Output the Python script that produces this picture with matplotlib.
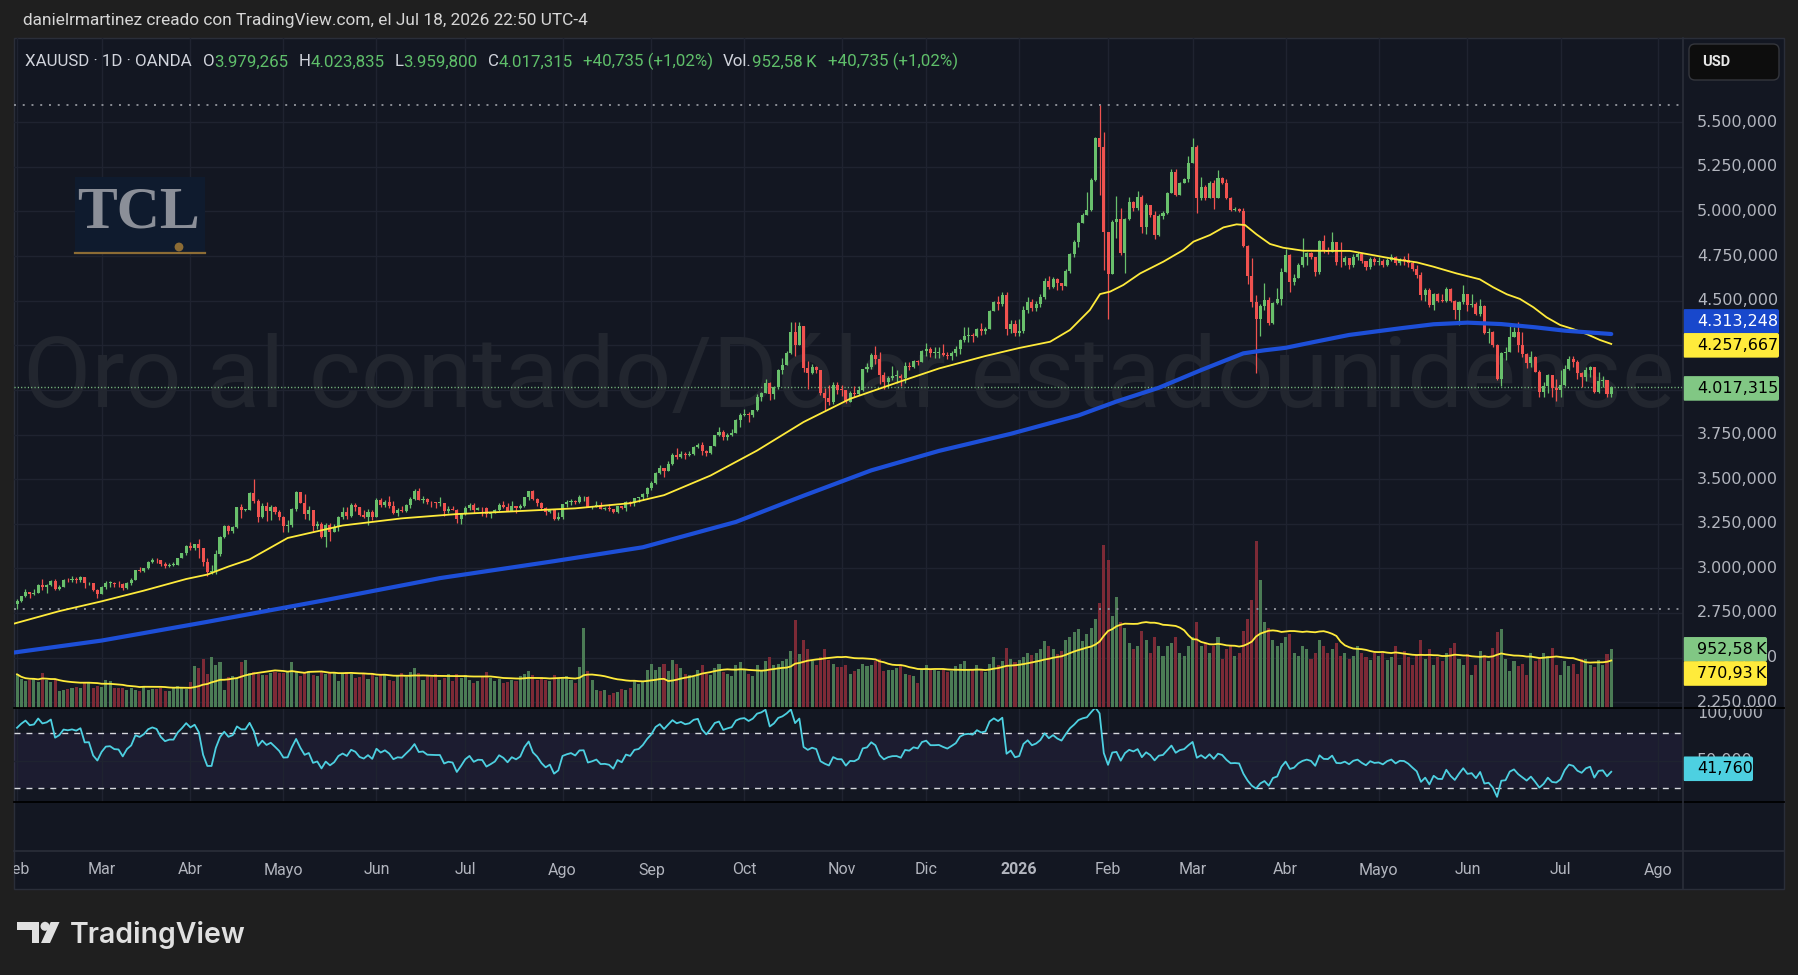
import numpy as np
import pandas as pd
import matplotlib
matplotlib.use("Agg")
import matplotlib.pyplot as plt
from matplotlib.patches import Rectangle, FancyBboxPatch, Circle, Polygon

plt.rcParams['lines.scale_dashes'] = False

# ------------------------------------------------------------------ data
# XAUUSD daily, Feb 3 2025 -> Jul 17 2026 (OANDA, no Dec 25 / Jan 1)
jan25_closes = [2658, 2640, 2636, 2649, 2662, 2670, 2690, 2663, 2677, 2697, 2714,
                2702, 2708, 2745, 2755, 2754, 2771, 2740, 2763, 2760, 2794, 2798]
holidays = ['2025-12-25', '2026-01-01']
last_open = 3979.265

closes = [
    # feb 25
    2815, 2842, 2866, 2856, 2861, 2908, 2897, 2905, 2928, 2883, 2898, 2935, 2933, 2939, 2936, 2951, 2915, 2916, 2876, 2858,
    # mar
    2893, 2918, 2920, 2911, 2910, 2889, 2918, 2934, 2989, 2984, 3001, 3034, 3048, 3044, 3023, 3011, 3019, 3019, 3057, 3085, 3124,
    # abr
    3113, 3134, 3114, 3037, 2982, 2982, 3083, 3176, 3237, 3211, 3229, 3342, 3327, 3327, 3424, 3380, 3288, 3349, 3319, 3344, 3317, 3288,
    # mayo
    3239, 3241, 3334, 3430, 3365, 3306, 3325, 3235, 3248, 3178, 3240, 3202, 3230, 3290, 3315, 3295, 3357, 3342, 3301, 3288, 3317, 3289,
    # jun
    3381, 3353, 3374, 3352, 3310, 3325, 3322, 3354, 3386, 3433, 3385, 3389, 3370, 3369, 3368, 3368, 3323, 3332, 3328, 3274, 3303,
    # jul
    3338, 3357, 3326, 3337, 3336, 3302, 3313, 3325, 3355, 3344, 3324, 3347, 3338, 3350, 3397, 3431, 3387, 3368, 3337, 3314, 3326, 3275, 3289,
    # ago
    3363, 3373, 3380, 3369, 3397, 3398, 3342, 3348, 3356, 3335, 3336, 3332, 3315, 3348, 3339, 3371, 3366, 3393, 3397, 3416, 3448,
    # sep
    3476, 3533, 3560, 3545, 3587, 3636, 3626, 3641, 3634, 3643, 3679, 3690, 3659, 3644, 3685, 3746, 3763, 3735, 3749, 3760, 3833, 3858,
    # oct
    3866, 3857, 3886, 3961, 3985, 4040, 3976, 4018, 4110, 4142, 4209, 4326, 4251, 4356, 4125, 4095, 4126, 4113, 3982, 3952, 3930, 4025, 4002,
    # nov
    4001, 3932, 3980, 3977, 4000, 4116, 4128, 4195, 4171, 4085, 4045, 4067, 4077, 4078, 4065, 4136, 4131, 4163, 4156, 4218,
    # dic
    4232, 4206, 4206, 4208, 4198, 4190, 4208, 4228, 4280, 4300, 4305, 4302, 4340, 4332, 4340, 4445, 4490, 4480, 4530, 4340, 4370, 4320,
    # ene 26
    4330, 4450, 4495, 4460, 4480, 4520, 4610, 4578, 4620, 4598, 4585, 4666, 4760, 4831, 4934, 4980, 5008, 5176, 5410, 5363, 4887,
    # feb
    4651, 4939, 4956, 4765, 4958, 5051, 5018, 5079, 4915, 5037, 4980, 4868, 4975, 4993, 5102, 5223, 5092, 5158, 5180, 5274,
    # mar
    5361, 5077, 5135, 5074, 5162, 5074, 5186, 5162, 5074, 5008, 5012, 5005, 4808, 4640, 4491, 4397, 4470, 4504, 4373, 4485, 4507, 4663,
    # abr
    4756, 4603, 4625, 4700, 4743, 4765, 4743, 4663, 4836, 4778, 4775, 4831, 4719, 4715, 4737, 4700, 4745, 4760, 4720, 4690, 4735, 4715,
    # mayo
    4720, 4700, 4730, 4745, 4710, 4732, 4730, 4709, 4676, 4644, 4532, 4560, 4476, 4537, 4500, 4498, 4564, 4498, 4448, 4494, 4537,
    # jun
    4476, 4481, 4425, 4470, 4321, 4327, 4252, 4061, 4205, 4210, 4298, 4322, 4252, 4201, 4149, 4186, 4102, 3990, 4024, 4083, 4009, 3999,
    # jul
    4027, 4115, 4173, 4158, 4097, 4070, 4111, 4126, 3987, 4050, 4055, 3976.58, 4017.315,
]

highs = [
    2830, 2845, 2882, 2870, 2886, 2911, 2942, 2910, 2936, 2942, 2904, 2938, 2947, 2955, 2954, 2956, 2953, 2925, 2920, 2882,
    2900, 2928, 2930, 2925, 2930, 2915, 2922, 2947, 2992, 3005, 3004, 3039, 3057, 3057, 3046, 3035, 3027, 3033, 3060, 3087, 3128,
    3149, 3136, 3167, 3055, 3055, 3020, 3100, 3180, 3245, 3245, 3235, 3344, 3358, 3330, 3430, 3500, 3386, 3367, 3372, 3354, 3352, 3328,
    3292, 3269, 3336, 3435, 3415, 3414, 3347, 3325, 3265, 3260, 3252, 3253, 3250, 3296, 3345, 3345, 3366, 3365, 3345, 3325, 3330, 3326,
    3392, 3392, 3384, 3403, 3375, 3338, 3349, 3360, 3398, 3446, 3452, 3404, 3394, 3376, 3374, 3398, 3368, 3348, 3350, 3330, 3309,
    3350, 3365, 3365, 3345, 3342, 3345, 3318, 3330, 3368, 3375, 3366, 3377, 3346, 3360, 3402, 3433, 3439, 3394, 3373, 3345, 3334, 3334, 3315,
    3363, 3385, 3390, 3385, 3409, 3405, 3404, 3352, 3375, 3374, 3344, 3358, 3334, 3350, 3352, 3379, 3376, 3393, 3399, 3423, 3454,
    3489, 3540, 3578, 3564, 3600, 3646, 3674, 3657, 3650, 3655, 3685, 3703, 3707, 3665, 3688, 3748, 3791, 3776, 3761, 3782, 3835, 3872,
    3895, 3875, 3889, 3977, 3991, 4059, 4045, 4022, 4117, 4179, 4218, 4380, 4379, 4381, 4360, 4161, 4146, 4135, 4113, 4008, 4030, 4047, 4045,
    4030, 4002, 3995, 4020, 4020, 4119, 4148, 4205, 4245, 4211, 4100, 4078, 4133, 4110, 4090, 4155, 4155, 4170, 4168, 4225,
    4265, 4242, 4242, 4242, 4260, 4215, 4220, 4245, 4288, 4353, 4350, 4320, 4345, 4375, 4350, 4450, 4498, 4525, 4550, 4548, 4390, 4390,
    4400, 4470, 4520, 4510, 4500, 4540, 4630, 4640, 4635, 4630, 4600, 4680, 4770, 4840, 4940, 4990, 5111, 5190, 5420, 5597, 5444,
    4877, 4950, 5087, 5018, 4965, 5079, 5060, 5115, 5095, 5045, 5030, 5000, 4985, 5000, 5110, 5236, 5240, 5165, 5190, 5311,
    5410, 5373, 5191, 5150, 5170, 5175, 5233, 5195, 5180, 5080, 5025, 5020, 5018, 4812, 4737, 4532, 4480, 4597, 4520, 4490, 4573, 4681,
    4790, 4760, 4650, 4710, 4850, 4775, 4775, 4745, 4840, 4870, 4800, 4883, 4830, 4830, 4750, 4740, 4760, 4775, 4770, 4725, 4745, 4745,
    4745, 4735, 4740, 4760, 4750, 4740, 4750, 4765, 4725, 4700, 4660, 4570, 4570, 4545, 4545, 4540, 4575, 4570, 4505, 4500, 4588,
    4520, 4537, 4495, 4510, 4475, 4345, 4330, 4255, 4210, 4242, 4364, 4351, 4380, 4326, 4205, 4220, 4192, 4110, 4046, 4089, 4076, 4061,
    4111, 4139, 4190, 4190, 4165, 4100, 4126, 4135, 4130, 4098, 4080, 4058, 4023.835,
]

lows = [
    2772, 2811, 2840, 2833, 2853, 2861, 2880, 2864, 2899, 2878, 2880, 2896, 2923, 2924, 2918, 2925, 2890, 2905, 2872, 2833,
    2857, 2885, 2894, 2894, 2896, 2880, 2882, 2906, 2932, 2978, 2982, 2996, 3028, 3028, 3015, 3000, 3008, 3011, 3017, 3055, 3077,
    3100, 3103, 3055, 3015, 2957, 2970, 2970, 3070, 3172, 3195, 3200, 3227, 3284, 3320, 3326, 3368, 3260, 3282, 3265, 3268, 3302, 3268,
    3202, 3204, 3230, 3319, 3365, 3279, 3271, 3208, 3220, 3172, 3121, 3154, 3206, 3207, 3275, 3278, 3287, 3323, 3291, 3282, 3245, 3271,
    3290, 3343, 3346, 3339, 3306, 3293, 3315, 3318, 3340, 3385, 3381, 3368, 3362, 3345, 3340, 3347, 3295, 3312, 3325, 3255, 3246,
    3297, 3328, 3311, 3326, 3296, 3287, 3282, 3310, 3320, 3340, 3320, 3320, 3310, 3330, 3345, 3383, 3382, 3351, 3325, 3301, 3308, 3268, 3268,
    3279, 3346, 3357, 3358, 3367, 3377, 3341, 3333, 3344, 3331, 3327, 3323, 3311, 3312, 3330, 3321, 3350, 3351, 3372, 3382, 3402,
    3437, 3471, 3526, 3510, 3545, 3580, 3615, 3620, 3614, 3630, 3636, 3674, 3633, 3628, 3642, 3683, 3740, 3717, 3718, 3741, 3756, 3793,
    3852, 3820, 3847, 3884, 3940, 3985, 3944, 3948, 4005, 4091, 4142, 4204, 4190, 4253, 4100, 4004, 4090, 4092, 3970, 3886, 3916, 3920, 3975,
    3964, 3928, 3932, 3963, 3972, 3995, 4098, 4116, 4145, 4032, 4005, 4010, 4058, 4038, 4022, 4040, 4110, 4124, 4138, 4155,
    4192, 4187, 4180, 4178, 4190, 4172, 4170, 4190, 4200, 4270, 4268, 4270, 4298, 4310, 4312, 4340, 4440, 4448, 4470, 4305, 4320, 4300,
    4300, 4320, 4430, 4440, 4445, 4465, 4510, 4565, 4570, 4560, 4560, 4580, 4655, 4745, 4800, 4935, 4990, 5005, 5170, 5092, 4672,
    4397, 4680, 4850, 4756, 4653, 4950, 5005, 5010, 4878, 4875, 4970, 4846, 4860, 4960, 4985, 5105, 5085, 5090, 5160, 5165,
    5270, 4993, 5064, 5065, 5080, 5012, 5115, 5155, 5070, 5000, 5000, 4995, 4803, 4592, 4463, 4096, 4302, 4450, 4365, 4370, 4480, 4476,
    4660, 4551, 4590, 4640, 4690, 4700, 4735, 4640, 4650, 4770, 4760, 4775, 4700, 4690, 4700, 4680, 4690, 4730, 4710, 4670, 4680, 4700,
    4700, 4690, 4695, 4720, 4700, 4700, 4700, 4690, 4665, 4630, 4505, 4500, 4462, 4448, 4490, 4490, 4490, 4495, 4397, 4364, 4480,
    4440, 4463, 4420, 4415, 4315, 4265, 4238, 4055, 4024, 4168, 4276, 4298, 4211, 4183, 4121, 4130, 4098, 3958, 3962, 3981, 3962, 3940,
    3958, 4020, 4110, 4126, 4061, 4018, 4052, 4074, 3985, 3981, 4018, 3960, 3959.8,
]

# volume in thousands
volume_k = [
    547, 466, 439, 450, 466, 423, 569, 450, 423, 466, 271, 287, 314, 325, 341, 331, 423, 406, 331, 352,
    341, 450, 439, 331, 331, 331, 298, 331, 298, 276, 358, 287, 314, 314, 325, 271, 276, 341, 352, 331, 314,
    423, 677, 655, 801, 558, 828, 704, 742, 298, 504, 515, 493, 748, 774, 569, 585, 547, 531, 531, 569, 585, 569,
    569, 585, 742, 608, 520, 585, 600, 539, 520, 585, 547, 563, 585, 439, 547, 585, 558, 493, 504, 547, 466, 558,
    504, 531, 547, 450, 431, 521, 569, 498, 585, 650, 562, 460, 515, 504, 547, 450, 493, 547, 439, 558, 493,
    542, 460, 406, 439, 509, 585, 493, 439, 466, 402, 423, 450, 439, 520, 558, 600, 542, 460, 504, 450, 439, 531, 493,
    488, 515, 450, 406, 666, 1304, 601, 450, 287, 276, 287, 206, 244, 260, 314, 287, 331, 450, 396, 435, 612,
    720, 612, 666, 720, 601, 774, 710, 650, 558, 531, 504, 612, 690, 560, 531, 650, 720, 585, 547, 520, 690, 740,
    640, 560, 520, 690, 610, 760, 820, 700, 720, 760, 800, 930, 1430, 880, 1100, 950, 760, 700, 820, 960, 780, 720, 660,
    660, 700, 560, 600, 640, 720, 680, 690, 760, 800, 600, 620, 620, 650, 700, 560, 540, 520, 400, 610,
    700, 640, 620, 600, 640, 580, 600, 680, 720, 760, 640, 620, 700, 620, 580, 720, 820, 700, 760, 980, 800, 740,
    780, 820, 900, 860, 900, 960, 1080, 1000, 960, 880, 920, 1100, 1150, 1240, 1280, 1080, 1200, 1300, 1450, 1700, 2640,
    2400, 1500, 1800, 1400, 1300, 1050, 950, 1000, 1250, 1100, 900, 1150, 1000, 850, 1000, 1050, 1150, 900, 850, 1000,
    1150, 1400, 1000, 1050, 900, 1000, 1150, 800, 950, 1000, 850, 900, 1250, 1450, 1750, 2710, 2080, 1400, 1300, 1100, 1000, 1050,
    1150, 1200, 900, 850, 1000, 950, 800, 900, 1100, 1000, 900, 950, 1050, 850, 900, 800, 850, 1000, 900, 820, 780, 900,
    850, 900, 780, 820, 1000, 700, 920, 820, 700, 860, 1100, 800, 950, 700, 820, 760, 900, 980, 1050, 800, 700,
    880, 540, 700, 920, 860, 760, 980, 1230, 1290, 800, 600, 760, 680, 720, 540, 900, 760, 800, 900, 850, 980, 700,
    536.02, 760, 680, 720, 560, 800, 800, 700, 660, 780, 700, 880, 952.58,
]

# moving averages (bar index, value)
ma50_x = [-1, 10, 20, 30, 40, 45, 50, 55, 64, 77, 91, 104, 118, 132, 145, 153, 164, 175, 186, 197, 208,
          218, 229, 237, 244.3, 249, 253.7, 256.1, 258.5, 261.6, 265.6, 271.1, 275.8, 278.2, 282.1, 285.3,
          288.4, 290.4, 293.1, 296.3, 299.4, 304.2, 315.2, 327, 331, 334.9, 340.4, 345.9, 349.1, 352.3,
          355.4, 358.6, 361.7, 364.9, 368, 371.2, 374.3, 377]
ma50_y = [2688, 2760, 2815, 2875, 2940, 2965, 3010, 3050, 3170, 3240, 3280, 3304, 3320, 3336, 3365, 3410, 3520,
          3660, 3820, 3950, 4040, 4120, 4190, 4235, 4270, 4336, 4448, 4537, 4551, 4588, 4653, 4719, 4784, 4831,
          4868, 4911, 4928, 4924, 4872, 4818, 4797, 4780, 4779, 4728, 4715, 4691, 4653, 4620, 4575, 4536, 4510,
          4463, 4407, 4364, 4341, 4313, 4280, 4257.667]
ma200_x = [-1, 20, 45, 73, 100, 127, 148, 170, 186, 202, 218, 235, 251, 260, 270, 280, 290, 295, 300, 307,
           315, 327, 335, 343, 351, 359, 366, 377]
ma200_y = [2527, 2595, 2700, 2822, 2945, 3040, 3118, 3260, 3407, 3549, 3658, 3754, 3857, 3935, 4012, 4111,
           4205, 4222, 4236, 4270, 4308, 4345, 4368, 4377, 4369, 4351, 4332, 4313.248]

price_ticks = np.arange(2250, 5501, 250)
month_names = ['Ene', 'Feb', 'Mar', 'Abr', 'Mayo', 'Jun', 'Jul', 'Ago', 'Sep', 'Oct', 'Nov', 'Dic']

# ------------------------------------------------------------------ prep
closes = np.array(closes, float)
highs = np.array(highs, float)
lows = np.array(lows, float)
vol = np.array(volume_k, float)
n = len(closes)
opens = np.r_[jan25_closes[-1], closes[:-1]]
opens[-1] = last_open
highs = np.maximum(highs, np.maximum(opens, closes))
lows = np.minimum(lows, np.minimum(opens, closes))
idx = np.arange(n)
up = closes >= opens

vol_ma = pd.Series(vol).rolling(20, min_periods=1).mean().values

# RSI 14 (Wilder)
allc = np.r_[jan25_closes, closes]
d = np.diff(allc)
g = np.clip(d, 0, None)
l = np.clip(-d, 0, None)
ag, al = g[:14].mean(), l[:14].mean()
rsi_all = np.full(len(allc), np.nan)
rsi_all[14] = 100 - 100 / (1 + ag / al)
for k in range(15, len(allc)):
    ag = (ag * 13 + g[k - 1]) / 14
    al = (al * 13 + l[k - 1]) / 14
    rsi_all[k] = 100 - 100 / (1 + ag / al)
rsi = rsi_all[len(jan25_closes):]

days = pd.bdate_range('2025-02-03', '2026-08-07')
days = days[~days.isin(pd.to_datetime(holidays))]
starts = [i for i in range(len(days)) if i == 0 or days[i].month != days[i - 1].month]


def tv(v, dec=3):
    s = f"{v:,.{dec}f}"
    return s.replace(',', '#').replace('.', ',').replace('#', '.')


# ------------------------------------------------------------------ layout
W, H = 1799, 975
X0, X1, SX1 = 14, 1683, 1784
Y0, Y_MAIN, Y_RSI, Y_TIME, Y_END = 38, 708, 802, 851, 889
BAR_PX, FIRST_PX = 4.2287, 17.03
xlim = ((X0 - FIRST_PX) / BAR_PX, (X1 - FIRST_PX) / BAR_PX)

OUTER = '#1f1f1f'
PANEL = '#131722'
GRID = '#1f2330'
UP, DN = '#69c06c', '#f0524f'
VUP, VDN = '#4b7b55', '#7c2a36'
AXT = '#b2b5be'
FONT_UI = ['Roboto', 'DejaVu Sans']
FONT_NUM = ['DejaVu Sans']

fig = plt.figure(figsize=(W / 100, H / 100), dpi=100)
fig.patch.set_facecolor(OUTER)


def axes_px(x0, y0, x1, y1, z):
    a = fig.add_axes([x0 / W, 1 - y1 / H, (x1 - x0) / W, (y1 - y0) / H], zorder=z)
    a.axis('off')
    return a


bg = axes_px(0, 0, W, H, 0)
bg.set_xlim(0, W)
bg.set_ylim(H, 0)
bg.add_patch(Rectangle((X0, Y0), SX1 - X0, Y_END - Y0, facecolor=PANEL, edgecolor='#2a2e39', lw=1))

# price pane: grid/watermark, volume, candles
gax = axes_px(X0, Y0, X1, Y_MAIN, 1)
vax = axes_px(X0, Y0, X1, Y_MAIN, 2)
ax = axes_px(X0, Y0, X1, Y_MAIN, 3)
for a in (gax, ax):
    a.set_xlim(*xlim)
    a.set_ylim(2217, 5972.5)
vax.set_xlim(*xlim)
vax.set_ylim(0, 10877)

for p in price_ticks:
    gax.axhline(p, color=GRID, lw=1)
for s in starts:
    gax.axvline(s, color=GRID, lw=1)
wm = gax.text(0.5, 0.49, 'Oro al contado/Dólar estadounidense', transform=gax.transAxes,
              ha='center', va='center', fontsize=74, color='#22262f', family=FONT_UI)

vax.bar(idx, vol, width=0.72, color=np.where(up, VUP, VDN), linewidth=0)
vax.plot(idx, vol_ma, color='#ffeb3b', lw=1.3)

ax.vlines(idx, lows, highs, colors=np.where(up, UP, DN), linewidth=0.9, zorder=3)
ax.bar(idx, np.maximum(np.abs(closes - opens), 4), bottom=np.minimum(opens, closes), width=0.72,
       color=np.where(up, UP, DN), linewidth=0, zorder=4)
ax.plot(ma50_x, ma50_y, color='#ffeb3b', lw=1.3, zorder=5)
ax.plot(ma200_x, ma200_y, color='#1d4fd8', lw=3.0, zorder=5, solid_capstyle='round')
ax.axhline(highs.max(), color='#8b8e96', lw=1.4, ls=(0, (1.4, 4.9)), zorder=2)
ax.axhline(lows.min(), color='#8b8e96', lw=1.4, ls=(0, (1.4, 4.9)), zorder=2)
ax.axhline(closes[-1], color='#81c784', lw=1.0, ls=(0, (0.8, 1.6)), zorder=2)

# RSI pane
rax = axes_px(X0, Y_MAIN, X1, Y_RSI, 3)
rax.set_xlim(*xlim)
rax.set_ylim(19.6, 88.5)
for s in starts:
    rax.axvline(s, color=GRID, lw=1)
rax.axhline(50, color=GRID, lw=1)
rax.axhspan(30, 70, color='#7e57c2', alpha=0.09, lw=0)
rax.axhline(70, color='#d6d8de', lw=1, ls=(0, (4.3, 4.3)))
rax.axhline(30, color='#d6d8de', lw=1, ls=(0, (4.3, 4.3)))
rax.plot(idx, rsi, color='#4dd0e1', lw=1.3)

# time axis
tax = axes_px(X0, Y_TIME, X1, Y_END, 3)
tax.set_xlim(*xlim)
tax.set_ylim(0, 1)
for s in starts:
    dt = days[s]
    lab = str(dt.year) if dt.month == 1 else month_names[dt.month - 1]
    tax.text(s, 0.5, lab, ha='center', va='center', color=AXT, fontsize=11.5, family=FONT_UI,
             weight='bold' if dt.month == 1 else 'normal', clip_on=True)

# overlay in pixel coordinates
ov = axes_px(0, 0, W, H, 10)
ov.set_xlim(0, W)
ov.set_ylim(H, 0)


def py(a, v):
    return H - a.transData.transform((0, v))[1]


for p in price_ticks:
    ov.text(1697, py(ax, p), tv(p), color=AXT, fontsize=11.5, va='center', family=FONT_NUM, zorder=2)
ov.text(1697, Y_MAIN + 5, tv(100), color=AXT, fontsize=11.5, va='center', family=FONT_NUM, zorder=2)
ov.text(1697, py(rax, 50), tv(50), color=AXT, fontsize=11.5, va='center', family=FONT_NUM, zorder=2)


def tag(yc, text, fc, tc, x1=1779):
    ov.add_patch(FancyBboxPatch((X1, yc - 12.3), x1 - X1, 24.6, boxstyle='round,pad=0,rounding_size=2',
                                facecolor=fc, edgecolor='none', zorder=4))
    ov.text(1697, yc, text, color=tc, fontsize=11.5, va='center', ha='left', family=FONT_NUM, zorder=5)


tag(py(ax, ma200_y[-1]) - 12.6, tv(ma200_y[-1]), '#1848cc', 'white')
tag(py(ax, ma50_y[-1]) + 1.4, tv(ma50_y[-1]), '#ffeb3b', 'black')
tag(py(ax, closes[-1]) + 1.6, tv(closes[-1]), '#81c784', 'black')
tag(py(vax, vol[-1]), tv(vol[-1], 2) + '\u2009K', '#81c784', 'black', 1767)
tag(py(vax, vol_ma[-1]) + 13, tv(vol_ma[-1], 2) + '\u2009K', '#ffeb3b', 'black', 1767)
tag(py(rax, rsi[-1]) - 3, tv(rsi[-1]), '#4dd0e1', 'black', 1753)

# separators
ov.plot([X0, SX1], [Y_MAIN, Y_MAIN], color='black', lw=1.3, zorder=6)
ov.plot([X0, SX1], [Y_RSI, Y_RSI], color='black', lw=1.3, zorder=6)
ov.plot([X0, SX1], [Y_TIME, Y_TIME], color='#2a2e39', lw=1.2, zorder=6)
ov.plot([X1, X1], [Y0, Y_END], color='#2a2e39', lw=1.2, zorder=6)

# USD button
ov.add_patch(FancyBboxPatch((1689, 44), 90, 36, boxstyle='round,pad=0,rounding_size=6',
                            facecolor='#0d0d0d', edgecolor='#34363c', lw=1, zorder=4))
ov.text(1702, 62, 'USD', color='#e6e6e6', fontsize=10.5, weight='bold', va='center', family=FONT_UI, zorder=5)

# header
ov.text(23, 21, 'danielrmartinez creado con TradingView.com, el Jul 18, 2026 22:50 UTC-4',
        color='#d6d6d6', fontsize=12.4, va='center', family=FONT_UI)

# legend line
LT, LG = '#d1d4dc', '#5fbf6a'
chg = closes[-1] - closes[-2]
pct = chg / closes[-2] * 100
chg_txt = f"+{tv(chg)} (+{tv(pct, 2)}%)"
segs = [('O', LT, 11), (tv(opens[-1]), LG, 0), ('H', LT, 10), (tv(highs[-1]), LG, 0),
        ('L', LT, 10), (tv(lows[-1]), LG, 0), ('C', LT, 10), (tv(closes[-1]), LG, 0),
        (chg_txt, LG, 10), ('Vol.', LT, 10), (tv(vol[-1], 2) + '\u2009K', LG, 0), (chg_txt, LG, 11)]
LFS = 12.2
prev = ov.text(25, 62, 'XAUUSD · 1D · OANDA', color=LT, fontsize=LFS, va='center', family=FONT_UI)
for txt, c, gap in segs:
    prev = ov.annotate(txt, xy=(1, 0), xycoords=prev, xytext=(gap, 0), textcoords='offset pixels',
                       color=c, fontsize=LFS, va='bottom', ha='left', family=FONT_UI)

# TCL logo
ov.add_patch(Rectangle((75, 177), 130, 76, facecolor='#0f1b2e', edgecolor='none'))
ov.text(138.5, 227, 'TCL', family=['Liberation Serif', 'DejaVu Serif'], weight='bold', fontsize=43,
        color='#8b8f98', ha='center', va='baseline')
ov.plot([75, 205], [252.5, 252.5], color='#8c6c35', lw=1.6)
ov.add_patch(Circle((179, 247), 3.7, color='#8c6c35'))

# TradingView logo
LOGO = '#e0e0e0'
ov.add_patch(Rectangle((17, 922), 22, 7.5, color=LOGO, lw=0))
ov.add_patch(Rectangle((32, 922), 7, 21, color=LOGO, lw=0))
ov.add_patch(Circle((45, 926.3), 4.5, color=LOGO, lw=0))
ov.add_patch(Polygon([(50.7, 922), (59.5, 922), (50, 943), (41, 943)], color=LOGO, lw=0))
ov.text(70, 943, 'TradingView', family=['Inter', 'DejaVu Sans'], weight='semibold', fontsize=20.5,
        color=LOGO, va='baseline')

# fit the watermark width to the pane
fig.canvas.draw()
bb = wm.get_window_extent(fig.canvas.get_renderer())
wm.set_fontsize(wm.get_fontsize() * 1650 / bb.width)

fig.savefig('out.png', dpi=100, facecolor=OUTER)
